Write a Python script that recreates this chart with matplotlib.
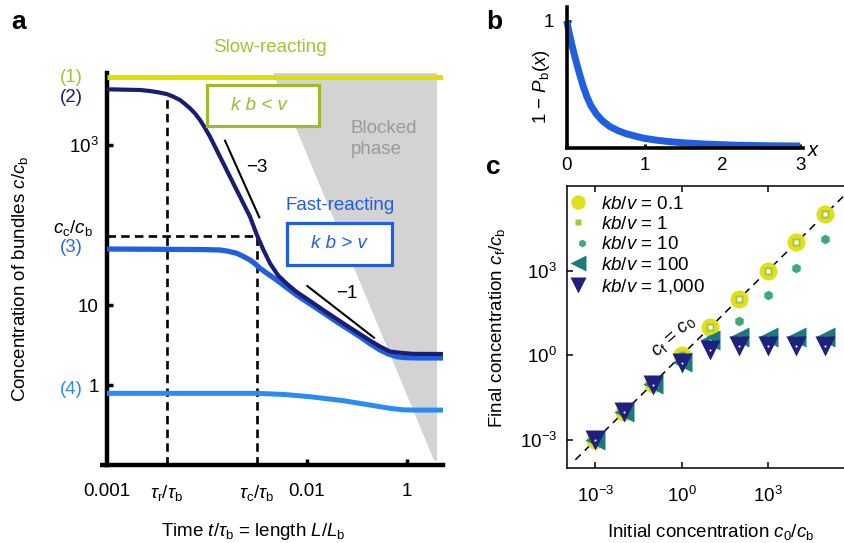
import matplotlib
matplotlib.use("Agg")
import matplotlib.pyplot as plt
from matplotlib.patches import Rectangle, Polygon
from matplotlib.lines import Line2D
from matplotlib.legend_handler import HandlerTuple

plt.rcParams['font.family'] = ['Liberation Sans', 'DejaVu Sans']
plt.rcParams['mathtext.fontset'] = 'custom'
plt.rcParams['mathtext.rm'] = 'Liberation Sans'
plt.rcParams['mathtext.it'] = 'Liberation Sans:italic'
plt.rcParams['mathtext.bf'] = 'Liberation Sans:bold'
plt.rcParams['axes.unicode_minus'] = True

# ---------------- data: panel a ----------------
t_slow = [0.001, 2.29]
c_slow = [7080, 7080]

t_curve2 = [0.001, 0.00214, 0.00269, 0.00324, 0.00395, 0.00457, 0.00537, 0.00603,
            0.00676, 0.00759, 0.00851, 0.00955, 0.01072, 0.01349, 0.01698, 0.02138,
            0.02692, 0.03141, 0.03631, 0.04266, 0.05129, 0.06266, 0.07762, 0.09931,
            0.1574, 0.2692, 0.4266, 0.537, 0.6761, 0.851, 1.148, 2.29]
c_curve2 = [4970, 4870, 4732, 4560, 4340, 4040, 3650, 3254,
            2875, 2476, 2054, 1631, 1270, 714, 401, 226,
            127, 76.0, 50.1, 33.2, 23.5, 18.5, 14.75, 12.0,
            8.1, 5.2, 3.6, 3.03, 2.62, 2.53, 2.45, 2.44]

t_curve3 = [0.001, 0.00851, 0.01349, 0.01622, 0.01982, 0.02291, 0.02692, 0.0302,
            0.03388, 0.04977, 0.07889, 0.125, 0.1982, 0.3388, 0.4266, 0.537,
            0.6457, 0.789, 0.955, 1.25, 2.29]
c_curve3 = [50.1, 49.4, 48.7, 47.05, 44.3, 40.7, 36.5, 32.9,
            28.7, 20.5, 13.3, 9.10, 6.18, 4.02, 3.29, 2.74,
            2.455, 2.26, 2.20, 2.18, 2.18]

t_curve4 = [0.001, 0.0316, 0.0603, 0.1072, 0.2307, 0.4266, 0.6761, 0.912, 1.2, 1.98, 2.29]
c_curve4 = [0.787, 0.787, 0.76, 0.714, 0.637, 0.562, 0.511, 0.490, 0.486, 0.486, 0.486]

blocked_t = [0.0457, 1.995, 1.995, 1.86]
blocked_c = [8000, 8000, 0.112, 0.115]

slope3_t = [0.01514, 0.03334]
slope3_c = [1132, 124.8]
slope1_t = [0.1007, 0.4677]
slope1_c = [17.28, 3.90]

tau_r = 0.00395
tau_c = 0.0314
c_c = 72.9
c_at_tau_r = 4340

xticks_a = [0.001, tau_r, tau_c, 0.1, 1]
xticklabels_a = ['0.001', r'$\tau_\mathrm{r}/\tau_\mathrm{b}$', r'$\tau_\mathrm{c}/\tau_\mathrm{b}$', '0.01', '1']
yticks_a = [1, 10, 1000]
yticklabels_a = ['1', '10', r'$10^3$']

# ---------------- data: panel b ----------------
x_b = [0, 0.02, 0.043, 0.07, 0.106, 0.14, 0.171, 0.21, 0.256, 0.31, 0.385, 0.46,
       0.555, 0.66, 0.77, 0.98, 1.15, 1.32, 1.5, 1.75, 2.18, 2.6, 3.0]
y_b = [1.0, 0.94, 0.875, 0.803, 0.715, 0.637, 0.57, 0.49, 0.41, 0.335, 0.265, 0.215,
       0.17, 0.138, 0.113, 0.08, 0.064, 0.052, 0.043, 0.034, 0.024, 0.02, 0.018]

# ---------------- data: panel c ----------------
c0 = [1e-3, 1e-2, 1e-1, 1, 10, 1e2, 1e3, 1e4, 1e5]
cf_01 = [1e-3, 1e-2, 1e-1, 1, 10, 1e2, 1e3, 1e4, 1e5]
cf_1 = [1e-3, 1e-2, 1e-1, 1, 10, 1e2, 1e3, 1e4, 1e5]
cf_10 = [1e-3, 1e-2, 1e-1, 0.95, 3.9, 17, 138, 1200, 13200]
cf_100 = [1e-3, 1e-2, 1e-1, 0.6, 3.5, 4.5, 4.5, 4.5, 4.5]
cf_1000 = [1e-3, 1e-2, 0.087, 0.52, 1.6, 2.2, 2.2, 2.2, 2.2]
legend_labels = [r'$kb/v$ = 0.1', r'$kb/v$ = 1', r'$kb/v$ = 10', r'$kb/v$ = 100', r'$kb/v$ = 1,000']
diag = [2e-4, 1e6]

# ---------------- figure ----------------
W, H = 845, 543
fig = plt.figure(figsize=(W / 100, H / 100), dpi=100)


def fx(px):
    return px / W


def fy(py):
    return 1 - py / H


FS = 13.5

# ===== panel a =====
axA = fig.add_axes([fx(107), fy(465), 336 / W, 392 / H])
axA.set_xscale('log')
axA.set_yscale('log')
axA.set_xlim(1e-3, 10 ** 0.36)
axA.set_ylim(0.1, 10 ** 3.9)

axA.add_patch(Polygon(list(zip(blocked_t, blocked_c)), closed=True,
                      facecolor='#d3d3d3', edgecolor='none', zorder=1))

dash = (0, (3.2, 2.0))
axA.plot([tau_r, tau_r], [0.1, c_at_tau_r], color='black', lw=1.9, ls=dash, zorder=2)
axA.plot([tau_c, tau_c], [0.1, c_c], color='black', lw=1.9, ls=dash, zorder=2)
axA.plot([1e-3, tau_c], [c_c, c_c], color='black', lw=1.9, ls=dash, zorder=2)

axA.plot(t_curve4, c_curve4, color='#2a8cf2', lw=3.6, solid_capstyle='butt', zorder=3)
axA.plot(t_curve3, c_curve3, color='#1f5fe0', lw=3.8, solid_capstyle='butt', zorder=3)
axA.plot(t_curve2, c_curve2, color='#1c1c70', lw=3.0, solid_capstyle='butt', zorder=4)
axA.plot(t_slow, c_slow, color='#e0e000', lw=3.6, solid_capstyle='butt', zorder=4)

axA.plot(slope3_t, slope3_c, color='black', lw=1.5, zorder=4)
axA.plot(slope1_t, slope1_c, color='black', lw=1.5, zorder=4)

for s in ['top', 'right']:
    axA.spines[s].set_visible(False)
for s in ['left', 'bottom']:
    axA.spines[s].set_linewidth(3.2)
axA.add_line(Line2D([-7 / 336, 0], [0, 0], transform=axA.transAxes, color='black',
                    lw=3.2, clip_on=False, solid_capstyle='butt'))

axA.set_xticks(xticks_a)
axA.set_xticklabels(xticklabels_a)
axA.set_yticks(yticks_a)
axA.set_yticklabels(yticklabels_a)
axA.minorticks_off()
axA.tick_params(axis='both', which='major', direction='in', length=4, width=2.5,
                labelsize=FS)
axA.tick_params(axis='x', pad=13)
axA.tick_params(axis='y', pad=6)
for i, tk in enumerate(axA.xaxis.get_major_ticks()):
    if i < 3:
        tk.tick1line.set_visible(False)

# labels for panel a
fig.text(fx(20), fy(279), r'Concentration of bundles $c/c_\mathrm{b}$', rotation=90,
         ha='center', va='center', fontsize=FS)
fig.text(fx(253), fy(532), r'Time $t/\tau_\mathrm{b}$ = length $L/L_\mathrm{b}$',
         ha='center', va='center', fontsize=FS)
fig.text(fx(93), fy(228), r'$c_\mathrm{c}/c_\mathrm{b}$', ha='right', va='center', fontsize=FS)
fig.text(fx(71), fy(77), '(1)', ha='center', va='center', fontsize=FS, color='#a3c23a')
fig.text(fx(71), fy(97), '(2)', ha='center', va='center', fontsize=FS, color='#1c1c70')
fig.text(fx(71), fy(248), '(3)', ha='center', va='center', fontsize=FS, color='#2a6ae8')
fig.text(fx(71), fy(390), '(4)', ha='center', va='center', fontsize=FS, color='#2a8af0')

fig.text(fx(270), fy(47), 'Slow-reacting', ha='center', va='center', fontsize=FS, color='#a3c23a')
fig.text(fx(340), fy(205), 'Fast-reacting', ha='center', va='center', fontsize=FS, color='#1f5fe0')
fig.text(fx(351), fy(139), 'Blocked\nphase', ha='left', va='center', fontsize=FS,
         color='#9a9a9a', linespacing=1.35)
fig.text(fx(257), fy(168), '\u22123', ha='center', va='center', fontsize=FS)
fig.text(fx(347), fy(293), '\u22121', ha='center', va='center', fontsize=FS)

fig.add_artist(Rectangle((fx(207.3), fy(126)), 112 / W, 41 / H, transform=fig.transFigure,
                         facecolor='white', edgecolor='#9cbb30', lw=2.3, zorder=5))
fig.text(fx(259), fy(106), 'k b < v', ha='center', va='center', fontsize=FS,
         style='italic', color='#9cbb30', zorder=6)
fig.add_artist(Rectangle((fx(287.3), fy(265)), 104.4 / W, 42.3 / H, transform=fig.transFigure,
                         facecolor='white', edgecolor='#1f5fe0', lw=2.3, zorder=5))
fig.text(fx(339), fy(244), 'k b > v', ha='center', va='center', fontsize=FS,
         style='italic', color='#1f5fe0', zorder=6)

# ===== panel b =====
axB = fig.add_axes([fx(566.7), fy(148.3), 236.6 / W, 141 / H])
axB.plot(x_b, y_b, color='#1f5fe0', lw=5, solid_capstyle='butt', solid_joinstyle='round',
         clip_on=False)
axB.set_xlim(0, 3.04)
axB.set_ylim(0, 1.105)
for s in ['top', 'right']:
    axB.spines[s].set_visible(False)
for s in ['left', 'bottom']:
    axB.spines[s].set_linewidth(2.6)
axB.set_xticks([0, 1, 2, 3])
axB.set_yticks([1])
axB.tick_params(axis='both', direction='in', length=3, width=2, labelsize=FS)
axB.tick_params(axis='x', pad=6)
axB.tick_params(axis='y', pad=9)
fig.text(fx(541.5), fy(86.7), r'1 $-$ $P_\mathrm{b}(x)$', rotation=90, ha='center',
         va='center', fontsize=FS)
fig.text(fx(814), fy(150), r'$x$', ha='center', va='center', fontsize=FS + 1)

# ===== panel c =====
axC = fig.add_axes([fx(566.7), fy(468.3), (W - 566.7) / W, 282.3 / H])
axC.set_xscale('log')
axC.set_yscale('log')
axC.set_xlim(1e-4, 10 ** 5.69)
axC.set_ylim(1e-4, 1e6)
axC.plot(diag, diag, color='black', lw=1.1, ls=(0, (5, 3.6)), zorder=1)

h1 = axC.plot(c0, cf_01, ls='none', marker='o', ms=13, mfc='#dfe01b', mec='none', zorder=2)[0]
h1w = axC.plot(c0, cf_01, ls='none', marker='o', ms=3.5, mfc='white', mec='none', zorder=2)[0]
h2 = axC.plot(c0, cf_1, ls='none', marker='s', ms=6, mfc='#a5c83c', mec='none', zorder=3)[0]
h2w = axC.plot(c0, cf_1, ls='none', marker='s', ms=2.5, mfc='white', mec='none', zorder=3)[0]
h3 = axC.plot(c0, cf_10, ls='none', marker='h', ms=7, mfc='#3aaa7a', mec='none', zorder=4)[0]
h4 = axC.plot(c0, cf_100, ls='none', marker='<', ms=14, mfc='#1b7b7b', mec='none', zorder=5)[0]
h4w = axC.plot(c0, cf_100, ls='none', marker='o', ms=1.5, mfc='white', mec='none', zorder=5)[0]
h5 = axC.plot(c0, cf_1000, ls='none', marker='v', ms=14, mfc='#1f2080', mec='none', zorder=6)[0]
h5w = axC.plot(c0, cf_1000, ls='none', marker='o', ms=1.5, mfc='white', mec='none', zorder=6)[0]

axC.spines['right'].set_visible(False)
for s in ['left', 'bottom', 'top']:
    axC.spines[s].set_linewidth(1.1)
axC.set_xticks([1e-3, 1, 1e3])
axC.set_xticklabels([r'$10^{-3}$', r'$10^{0}$', r'$10^{3}$'])
axC.set_yticks([1e-3, 1, 1e3])
axC.set_yticklabels([r'$10^{-3}$', r'$10^{0}$', r'$10^{3}$'])
axC.minorticks_off()
axC.tick_params(axis='both', direction='in', length=4, width=1.1, labelsize=FS,
                top=True)
axC.tick_params(axis='x', pad=13)
axC.tick_params(axis='y', pad=7)

axC.text(0.556, 4.53, r'$c_\mathrm{f}$ = $c_0$', rotation=42, ha='center', va='center',
         fontsize=FS, zorder=7)

leg = axC.legend([(h1, h1w), (h2, h2w), h3, (h4, h4w), (h5, h5w)], legend_labels,
                 handler_map={tuple: HandlerTuple(ndivide=None)},
                 loc='upper left', bbox_to_anchor=(0.022, 0.966), frameon=False,
                 borderpad=0, borderaxespad=0, handlelength=1.0, handletextpad=0.5,
                 labelspacing=0.17, markerscale=0.8, fontsize=FS)

fig.text(fx(497), fy(328), r'Final concentration $c_\mathrm{f}/c_\mathrm{b}$', rotation=90,
         ha='center', va='center', fontsize=FS)
fig.text(fx(711), fy(532), r'Initial concentration $c_0/c_\mathrm{b}$', ha='center',
         va='center', fontsize=FS)

# panel letters
fig.text(fx(11), fy(29), 'a', fontsize=19, fontweight='bold', ha='left', va='baseline')
fig.text(fx(486), fy(29), 'b', fontsize=19, fontweight='bold', ha='left', va='baseline')
fig.text(fx(486), fy(173.5), 'c', fontsize=19, fontweight='bold', ha='left', va='baseline')

fig.savefig('out.png', dpi=100)
